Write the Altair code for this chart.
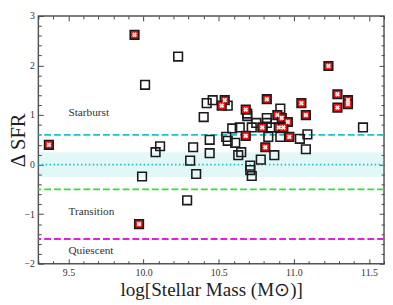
import altair as alt
import pandas as pd

# ---- data ----
open_x = [10.01, 10.23, 10.11, 10.08, 9.99, 10.29, 10.33, 10.31, 10.35, 10.40,
          10.42, 10.46, 10.56, 10.69, 10.69, 10.91, 10.82, 10.82, 10.75, 10.72,
          10.85, 10.64, 10.59, 10.44, 10.55, 10.56, 10.61, 10.83, 10.91, 11.04,
          11.09, 11.08, 11.46, 10.44, 10.63, 10.65, 10.71, 10.71, 10.72, 10.78,
          10.87]
open_y = [1.61, 2.18, 0.37, 0.25, -0.24, -0.72, 0.35, 0.08, -0.19, 0.96,
          1.24, 1.30, 1.19, 1.03, 0.98, 1.13, 0.94, 0.84, 0.84, 0.75,
          0.75, 0.75, 0.73, 0.50, 0.56, 0.48, 0.44, 0.56, 0.56, 0.52,
          0.61, 0.31, 0.75, 0.23, 0.19, 0.25, -0.02, -0.11, -0.23, 0.10,
          0.19]

flag_x = [9.37, 9.94, 9.97, 11.23, 10.54, 10.52, 10.82, 10.68, 11.05, 10.89,
          10.92, 10.96, 11.08, 10.90, 10.93, 11.29, 11.29, 11.36, 11.36, 10.79,
          10.68, 10.97, 10.81]
flag_y = [0.40, 2.62, -1.20, 1.99, 1.30, 1.19, 1.32, 1.11, 1.24, 1.00,
          0.94, 0.86, 1.00, 0.75, 0.75, 1.42, 1.15, 1.30, 1.22, 0.75,
          0.58, 0.56, 0.35]

line_y = [0.6, -0.5, -1.5]
line_colors = ["#22c0c4", "#33e033", "#e022e0"]
zero_y = [0.0]
band_lo = [-0.25]
band_hi = [0.25]

x_domain = [9.3, 11.6]
y_domain = [-2, 3]

region_labels = ["Starburst", "Transition", "Quiescent"]
region_x = [9.5, 9.5, 9.5]
region_y = [1.05, -0.95, -1.75]

x_major = [9.5, 10.0, 10.5, 11.0, 11.5]
x_minor = [9.3, 9.4, 9.6, 9.7, 9.8, 9.9, 10.1, 10.2, 10.3, 10.4, 10.6, 10.7,
           10.8, 10.9, 11.1, 11.2, 11.3, 11.4, 11.6]
y_major = [-2, -1, 0, 1, 2, 3]
y_minor = [-1.8, -1.6, -1.4, -1.2, -0.8, -0.6, -0.4, -0.2, 0.2, 0.4, 0.6, 0.8,
           1.2, 1.4, 1.6, 1.8, 2.2, 2.4, 2.6, 2.8]

# ---- tables ----
open_df = pd.DataFrame({"x": open_x, "y": open_y})
flag_df = pd.DataFrame({"x": flag_x, "y": flag_y})
lines_df = pd.DataFrame({"y": line_y, "c": line_colors})
zero_df = pd.DataFrame({"y": zero_y})
band_df = pd.DataFrame({"x0": [x_domain[0]], "x1": [x_domain[1]], "lo": band_lo, "hi": band_hi})
text_df = pd.DataFrame({"x": region_x, "y": region_y, "t": region_labels})

W, H = 353, 253
FONT = "Liberation Serif"
xs = alt.Scale(domain=x_domain, nice=False, zero=False)
ys = alt.Scale(domain=y_domain, nice=False, zero=False)
TC = "#444444"


def tick_axis(orient, values, size):
    return alt.Axis(orient=orient, values=values, labels=False, domain=False,
                    grid=False, ticks=True, tickSize=size, offset=-size,
                    tickColor=TC, tickWidth=1, title=None)


band = alt.Chart(band_df).mark_rect(color="#22c0c4", opacity=0.13).encode(
    x=alt.X("x0:Q", scale=xs, axis=None),
    x2="x1:Q",
    y=alt.Y("lo:Q", scale=ys, axis=None),
    y2="hi:Q",
)

dashed = alt.Chart(lines_df).mark_rule(strokeDash=[7, 3], strokeWidth=2).encode(
    y=alt.Y("y:Q", scale=ys, axis=None),
    color=alt.Color("c:N", scale=None),
)

dotted = alt.Chart(zero_df).mark_rule(strokeDash=[1.5, 2.5], strokeWidth=1.8,
                                      color="#22c0c4").encode(
    y=alt.Y("y:Q", scale=ys, axis=None),
)

texts = alt.Chart(text_df).mark_text(align="left", baseline="middle", font=FONT,
                                     fontSize=11.5, color="#333333").encode(
    x=alt.X("x:Q", scale=xs, axis=None),
    y=alt.Y("y:Q", scale=ys, axis=None),
    text="t:N",
)

open_pts = alt.Chart(open_df).mark_point(shape="square", size=78, filled=False,
                                         stroke="#1a1a1a", strokeWidth=1.6,
                                         opacity=1).encode(
    x=alt.X("x:Q", scale=xs,
            axis=alt.Axis(orient="bottom", values=x_major, format=".1f",
                          ticks=False, domain=False, grid=False,
                          labelFont=FONT, labelFontSize=10, labelColor="#333333",
                          labelPadding=4, labelFlush=False, labelOverlap=False,
                          title="log[Stellar Mass (M⊙)]", titleFont=FONT,
                          titleFontSize=19.5, titleFontWeight="normal",
                          titleColor="#222222", titleBaseline="alphabetic",
                          titleY=32)),
    y=alt.Y("y:Q", scale=ys,
            axis=alt.Axis(orient="left", values=y_major, format="d",
                          ticks=False, domain=False, grid=False,
                          labelFont=FONT, labelFontSize=10, labelColor="#333333",
                          labelPadding=4, labelFlush=False, labelOverlap=False,
                          title="Δ SFR", titleFont=FONT, titleFontSize=21,
                          titleFontWeight="normal", titleColor="#222222",
                          titleAngle=270, titleAlign="center",
                          titleBaseline="alphabetic", titleX=-14,
                          titleY=H / 2)),
)

flag_pts = alt.Chart(flag_df).mark_point(shape="square", size=78, filled=True,
                                         fill="#ee1111", stroke="#1a1a1a",
                                         strokeWidth=1.6, opacity=1).encode(
    x=alt.X("x:Q", scale=xs, axis=tick_axis("bottom", x_major, 5)),
    y=alt.Y("y:Q", scale=ys, axis=tick_axis("left", y_major, 5)),
)

crosses = alt.Chart(flag_df).mark_point(shape="cross", size=26, filled=True,
                                        color="#ffffff", angle=45,
                                        opacity=0.9).encode(
    x=alt.X("x:Q", scale=xs, axis=tick_axis("top", x_major, 5)),
    y=alt.Y("y:Q", scale=ys, axis=tick_axis("right", y_major, 5)),
)

minor1 = alt.Chart(open_df).mark_point(opacity=0).encode(
    x=alt.X("x:Q", scale=xs, axis=tick_axis("bottom", x_minor, 3)),
    y=alt.Y("y:Q", scale=ys, axis=tick_axis("left", y_minor, 3)),
)

minor2 = alt.Chart(open_df).mark_point(opacity=0).encode(
    x=alt.X("x:Q", scale=xs, axis=tick_axis("top", x_minor, 3)),
    y=alt.Y("y:Q", scale=ys, axis=tick_axis("right", y_minor, 3)),
)

chart = alt.layer(band, dashed, dotted, texts, open_pts, flag_pts, crosses,
                  minor1, minor2).resolve_axis(
    x="independent", y="independent"
).properties(
    width=W, height=H,
    autosize=alt.AutoSizeParams(type="none"),
    padding={"left": 31, "top": 5, "right": 1, "bottom": 36},
).configure_view(stroke="#555555", strokeWidth=1.5)

chart.save("out.html", embed_options={"renderer": "svg", "actions": False})
